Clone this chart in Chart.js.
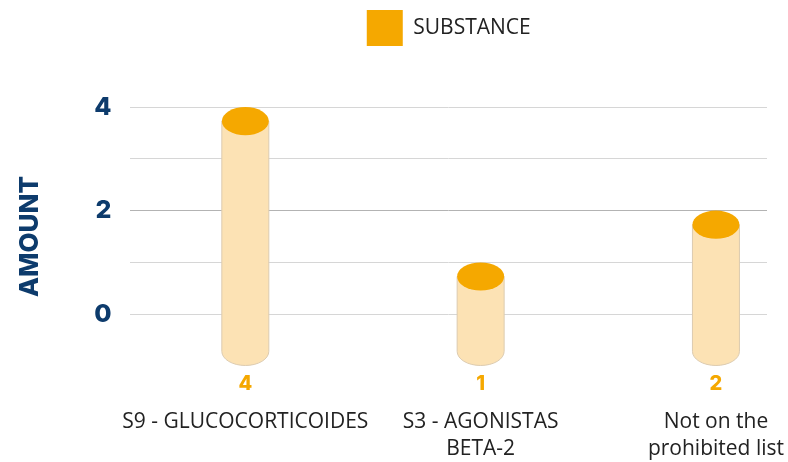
<!DOCTYPE html>
<html>
<head>
<meta charset="utf-8">
<script src="https://cdn.jsdelivr.net/npm/chart.js@4/dist/chart.umd.min.js"></script>
<style>
	body {margin: 0; background: #fff;}
</style>
</head>
<body>
<canvas id="myChart" width="788" height="462"></canvas>
<script>
'use strict';

const categories = [['S9 - GLUCOCORTICOIDES'], ['S3 - AGONISTAS', 'BETA-2'], ['Not on the', 'prohibited list']];
const amounts = [4, 1, 2];
const yTickLabels = [0, 2, 4];
const seriesName = 'SUBSTANCE';

const topColor = '#f5a800';
const bodyColor = '#fce2b4';
const edgeColor = '#dccbb0';
const navy = '#0d3b6c';
const textFont = '"Open Sans"';
const heavyFont = 'Inter';

// draws each bar as a cylinder using the bar element geometry
const cylinders = {
	id: 'cylinders',
	beforeInit: chart => {
		// leave room between legend and plot
		const fit = chart.legend.fit;
		chart.legend.fit = function() {
			fit.call(this);
			this.height += 51;
		};
	},
	beforeDatasetDraw: () => false,
	afterDatasetsDraw: chart => {
		const ctx = chart.ctx;
		const meta = chart.getDatasetMeta(0);
		meta.data.forEach((bar, i) => {
			const p = bar.getProps(['x', 'y', 'base', 'width'], true);
			const rx = p.width / 2, ry = p.width * 0.3;
			const top = p.y + ry, bot = p.base - ry;
			ctx.save();
			ctx.fillStyle = bodyColor;
			ctx.strokeStyle = edgeColor;
			ctx.lineWidth = 1;
			ctx.beginPath();
			ctx.moveTo(p.x - rx, top);
			ctx.lineTo(p.x - rx, bot);
			ctx.ellipse(p.x, bot, rx, ry, 0, Math.PI, 0, true);
			ctx.lineTo(p.x + rx, top);
			ctx.closePath();
			ctx.fill();
			ctx.stroke();
			ctx.fillStyle = topColor;
			ctx.beginPath();
			ctx.ellipse(p.x, top, rx, ry, 0, 0, Math.PI * 2);
			ctx.fill();
			ctx.font = '800 20px ' + heavyFont;
			ctx.textAlign = 'center';
			ctx.textBaseline = 'middle';
			ctx.fillText(amounts[i], p.x, chart.scales.x.top + 18);
			ctx.restore();
		});
	},
};

const ctx = document.getElementById('myChart').getContext('2d');
const myChart = new Chart(ctx, {
	type: 'bar',
	data: {
		datasets: [{
			label: seriesName,
			data: amounts.map((v, i) => ({x: i, y: v})),
			backgroundColor: topColor,
			base: -1,
			barThickness: 47,
		}],
	},
	plugins: [cylinders],
	options: {
		responsive: false,
		animation: false,
		layout: {padding: {left: 13, right: 21, top: 0, bottom: 0}},
		plugins: {
			tooltip: {enabled: false},
			legend: {
				fullSize: false,
				labels: {
					boxWidth: 36,
					boxHeight: 36,
					padding: 10,
					color: '#222',
					font: {family: textFont, size: 21},
				},
			},
		},
		scales: {
			x: {
				type: 'linear',
				offset: false,
				min: -0.488,
				max: 2.217,
				grid: {display: false, drawTicks: false},
				border: {display: false},
				afterBuildTicks: scale => {
					scale.ticks = categories.map((c, i) => ({value: i}));
				},
				afterFit: scale => {
					scale.paddingLeft = 0;
					scale.paddingRight = 0;
					scale.height = 96;
				},
				ticks: {
					autoSkip: false,
					maxRotation: 0,
					padding: 42,
					color: '#222',
					font: {family: textFont, size: 21, lineHeight: 1.29},
					callback: v => categories[v],
				},
			},
			y: {
				min: -1,
				max: 4,
				border: {display: false},
				grid: {
					drawTicks: false,
					color: c => c.tick.value < 0 ? 'rgba(0,0,0,0)' : (c.tick.value === 2 ? '#b3b3b3' : '#d6d6d6'),
				},
				ticks: {
					stepSize: 1,
					padding: 19,
					color: navy,
					font: {family: heavyFont, size: 25, weight: 800},
					callback: v => yTickLabels.includes(v) ? v : '',
				},
				title: {
					display: true,
					text: 'AMOUNT',
					color: navy,
					padding: {top: 2, bottom: 29},
					font: {family: heavyFont, size: 26, weight: 800},
				},
			},
		},
	},
});
</script>
</body>
</html>
